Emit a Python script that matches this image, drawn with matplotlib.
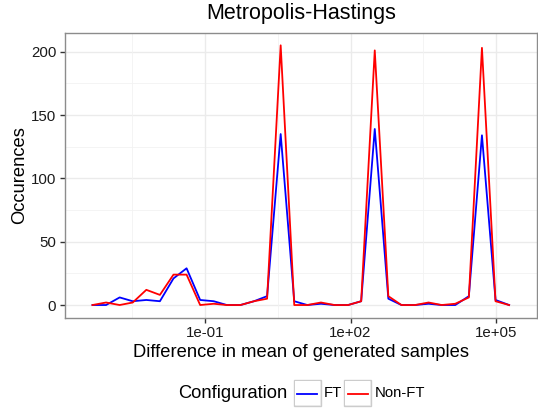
import numpy as np
import matplotlib
matplotlib.use("Agg")
import matplotlib.pyplot as plt
from matplotlib.patches import Rectangle
from matplotlib.lines import Line2D

plt.rcParams['font.family'] = ['Liberation Sans', 'DejaVu Sans']

# ---- data ----
log10_diff = [-3.32, -3.04, -2.76, -2.49, -2.21, -1.93, -1.65, -1.38,
              -1.10, -0.82, -0.55, -0.27, 0.01, 0.28, 0.56, 0.84,
              1.11, 1.39, 1.67, 1.95, 2.22, 2.50, 2.78, 3.05,
              3.33, 3.61, 3.88, 4.16, 4.44, 4.71, 4.99, 5.27]
ft =     [0, 0, 6, 3, 4, 3, 21, 29, 4, 3, 0, 0, 3, 7, 135, 3,
          0, 1, 0, 0, 3, 139, 5, 0, 0, 1, 0, 0, 7, 134, 4, 0]
non_ft = [0, 2, 0, 2, 12, 8, 24, 24, 0, 1, 0, 0, 3, 5, 205, 0,
          0, 2, 0, 0, 3, 201, 7, 0, 0, 2, 0, 1, 6, 203, 3, 0]
series_names = ["FT", "Non-FT"]
series_colors = ["#0000FF", "#FF0000"]
xtick_vals = [1e-1, 1e2, 1e5]
xtick_labels = ["1e-01", "1e+02", "1e+05"]
ytick_vals = [0, 50, 100, 150, 200]

W, H = 538, 408
fig = plt.figure(figsize=(W / 100, H / 100), dpi=100)

# panel in pixel coordinates
L, R, T, B = 64.7, 536.7, 33.3, 317.7
ax = fig.add_axes([L / W, 1 - B / H, (R - L) / W, (B - T) / H])

x = 10 ** np.array(log10_diff)
for vals, name, col in zip([ft, non_ft], series_names, series_colors):
    ax.plot(x, vals, color=col, lw=1.3, label=name, zorder=3)

ax.set_xscale('log')
ax.set_xlim(10 ** -3.893, 10 ** 5.839)
ax.set_ylim(-10.0, 214.5)

ax.set_xticks(xtick_vals)
ax.set_xticklabels(xtick_labels)
ax.xaxis.set_minor_locator(matplotlib.ticker.NullLocator())
ax.set_yticks(ytick_vals)
ax.set_yticklabels([str(v) for v in ytick_vals])

# grid (ggplot theme_bw style)
for v in ytick_vals:
    ax.axhline(v, color="#EBEBEB", lw=1.0, zorder=1)
for v in [25, 75, 125, 175]:
    ax.axhline(v, color="#F2F2F2", lw=0.6, zorder=1)
for v in xtick_vals:
    ax.axvline(v, color="#EBEBEB", lw=1.0, zorder=1)
for v in [10 ** -2.5, 10 ** 0.5, 10 ** 3.5]:
    ax.axvline(v, color="#F2F2F2", lw=0.6, zorder=1)

for s in ax.spines.values():
    s.set_color("#8C8C8C")
    s.set_linewidth(1.0)

ax.tick_params(axis='both', which='major', length=3.5, width=1.0,
               color="#333333", labelsize=10.8, labelcolor="#1A1A1A", pad=2.5)

ax.set_title("Metropolis-Hastings", fontsize=15.5, pad=10)
ax.set_xlabel("Difference in mean of generated samples", fontsize=13.2, labelpad=3)
ax.set_ylabel("Occurences", fontsize=13.2, labelpad=2)

# legend (bottom, horizontal, boxed keys)
def fx(px):
    return px / W
def fy(py):
    return 1 - py / H

fig.text(fx(178.3), fy(393), "Configuration", fontsize=13.2, ha='left', va='center')
key_left = [293.5, 344.0]
text_left = [323.3, 374.3]
for kl, tl, name, col in zip(key_left, text_left, series_names, series_colors):
    fig.patches.append(Rectangle((fx(kl), fy(406)), 27 / W, 26 / H,
                                 transform=fig.transFigure, facecolor="#F2F2F2",
                                 edgecolor="#CCCCCC", lw=1.0))
    fig.patches.append(Rectangle((fx(kl + 1), fy(405)), 25 / W, 24 / H,
                                 transform=fig.transFigure, facecolor="white",
                                 edgecolor="none"))
    fig.lines.append(Line2D([fx(kl + 3.5), fx(kl + 23.5)], [fy(393.5), fy(393.5)],
                            transform=fig.transFigure, color=col, lw=1.3))
    fig.text(fx(tl), fy(393), name, fontsize=10.7, ha='left', va='center')

fig.savefig("out.png", dpi=100)
